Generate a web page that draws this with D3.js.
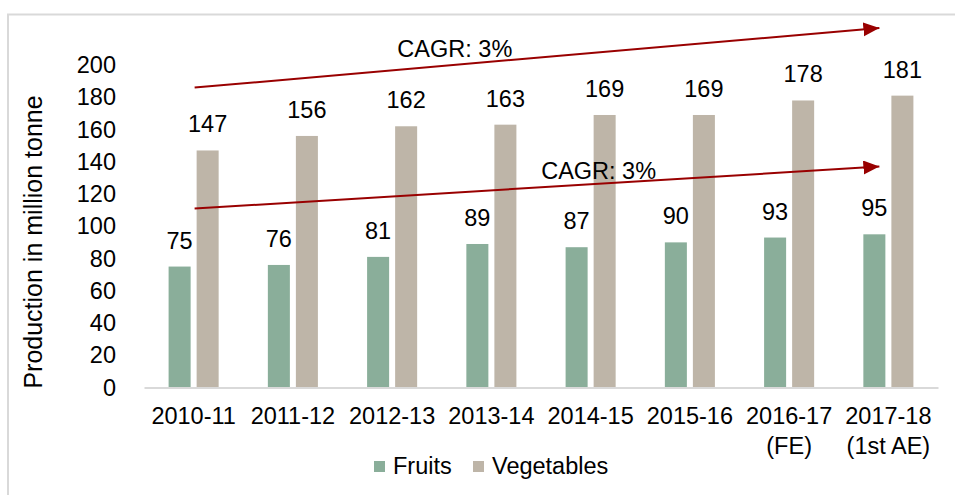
<!DOCTYPE html>
<html>
<head>
<meta charset="utf-8">
<script src="https://cdn.jsdelivr.net/npm/d3@7"></script>
<style>
  body { margin: 0; background: #fff; }
  svg text { font-family: "Liberation Sans", Arial, sans-serif; fill: #000; }
</style>
</head>
<body>
<svg id="chart"></svg>
<script>
// data
const years = ["2010-11", "2011-12", "2012-13", "2013-14", "2014-15", "2015-16", "2016-17", "2017-18"];
const yearNotes = ["", "", "", "", "", "", "(FE)", "(1st AE)"];
const seriesNames = ["Fruits", "Vegetables"];
const fruits = [75, 76, 81, 89, 87, 90, 93, 95];
const vegetables = [147, 156, 162, 163, 169, 169, 178, 181];
const yTicks = [0, 20, 40, 60, 80, 100, 120, 140, 160, 180, 200];
// CAGR arrows: start / end value on the y scale
const cagrFrom = [186, 111];
const cagrTo = [223, 137];
const cagrText = ["CAGR: 3%", "CAGR: 3%"];

const width = 955;
const height = 495;
const fontSize = "23.5px";
const colors = {Fruits: "#8aae9a", Vegetables: "#beb5a8"};
const arrowColor = "#990000";

let svg = d3.select("#chart")
    .attr("width", width)
    .attr("height", height);

svg.append("rect")
   .attr("x", 8).attr("y", 14.5)
   .attr("width", 960).attr("height", 500)
   .attr("fill", "#fff")
   .attr("stroke", "#d9d9d9")
   .attr("stroke-width", 2);

let x0 = d3.scaleBand()
    .domain(years)
    .range([144, 938])
    .padding(0);

let x1 = d3.scaleBand()
    .domain(seriesNames)
    .range([24.6, x0.bandwidth() - 24.6])
    .paddingInner(6 / 28)
    .paddingOuter(0);

let y = d3.scaleLinear()
    .domain([0, 200])
    .range([387.5, 65]);

// y axis
let yAxis = svg.append("g")
    .attr("transform", "translate(144,0)")
    .call(d3.axisLeft(y).tickValues(yTicks).tickSize(0).tickPadding(28));
yAxis.select(".domain").remove();
yAxis.selectAll("text")
     .style("font-size", fontSize)
     .attr("fill", "#000");

svg.append("text")
   .attr("transform", "translate(42,242) rotate(-90)")
   .attr("text-anchor", "middle")
   .style("font-size", "25px")
   .text("Production in million tonne");

// bars
let rows = years.map((yr, i) => ({year: yr, values: [
    {name: "Fruits", value: fruits[i]},
    {name: "Vegetables", value: vegetables[i]}
]}));

let groups = svg.selectAll(".grp")
    .data(rows)
    .enter()
    .append("g")
    .attr("class", "grp")
    .attr("transform", d => "translate(" + x0(d.year) + ",0)");

groups.selectAll("rect")
    .data(d => d.values)
    .enter()
    .append("rect")
    .attr("x", d => x1(d.name))
    .attr("y", d => y(d.value))
    .attr("width", x1.bandwidth())
    .attr("height", d => y(0) - y(d.value))
    .attr("fill", d => colors[d.name]);

groups.selectAll(".lbl")
    .data(d => d.values)
    .enter()
    .append("text")
    .attr("class", "lbl")
    .attr("x", d => x1(d.name) + x1.bandwidth() / 2)
    .attr("y", d => y(d.value) - 18)
    .attr("text-anchor", "middle")
    .style("font-size", fontSize)
    .text(d => d.value);

// x axis
let xAxis = svg.append("g")
    .attr("transform", "translate(0," + y(0) + ")")
    .call(d3.axisBottom(x0).tickSize(0).tickPadding(12));
xAxis.select(".domain")
     .attr("stroke", "#d9d9d9")
     .attr("stroke-width", 2);
xAxis.selectAll(".tick text").remove();
xAxis.selectAll(".tick")
     .append("text")
     .attr("text-anchor", "middle")
     .attr("y", 36)
     .style("font-size", fontSize)
     .text(d => d);
xAxis.selectAll(".tick")
     .append("text")
     .attr("text-anchor", "middle")
     .attr("y", 66)
     .style("font-size", fontSize)
     .text((d, i) => yearNotes[i]);

// arrows
svg.append("defs")
   .append("marker")
   .attr("id", "head")
   .attr("markerUnits", "userSpaceOnUse")
   .attr("markerWidth", 17).attr("markerHeight", 15)
   .attr("refX", 16).attr("refY", 7)
   .attr("orient", "auto")
   .append("path")
   .attr("d", "M0,0 L16,7 L0,14 Z")
   .attr("fill", arrowColor);

let xStart = x0(years[0]) + x0.bandwidth() / 2 + 1;
let xEnd = x0(years[years.length - 1]) + x0.bandwidth() / 2 - 9;
let labelAt = [0.38, 0.59];
let labelLift = [8, 5];

cagrFrom.forEach((v, i) => {
    svg.append("line")
       .attr("x1", xStart).attr("y1", y(v))
       .attr("x2", xEnd).attr("y2", y(cagrTo[i]))
       .attr("stroke", arrowColor)
       .attr("stroke-width", 2)
       .attr("marker-end", "url(#head)");
    let t = labelAt[i];
    svg.append("text")
       .attr("x", xStart + t * (xEnd - xStart))
       .attr("y", y(v) + t * (y(cagrTo[i]) - y(v)) - labelLift[i])
       .attr("text-anchor", "middle")
       .style("font-size", fontSize)
       .text(cagrText[i]);
});

// legend
let legendX = [374, 473];
let legend = svg.selectAll(".leg")
    .data(seriesNames)
    .enter()
    .append("g")
    .attr("class", "leg")
    .attr("transform", (d, i) => "translate(" + legendX[i] + ",461)");
legend.append("rect")
      .attr("width", 11).attr("height", 11)
      .attr("fill", d => colors[d]);
legend.append("text")
      .attr("x", 19).attr("y", 13)
      .style("font-size", fontSize)
      .text(d => d);
</script>
</body>
</html>
